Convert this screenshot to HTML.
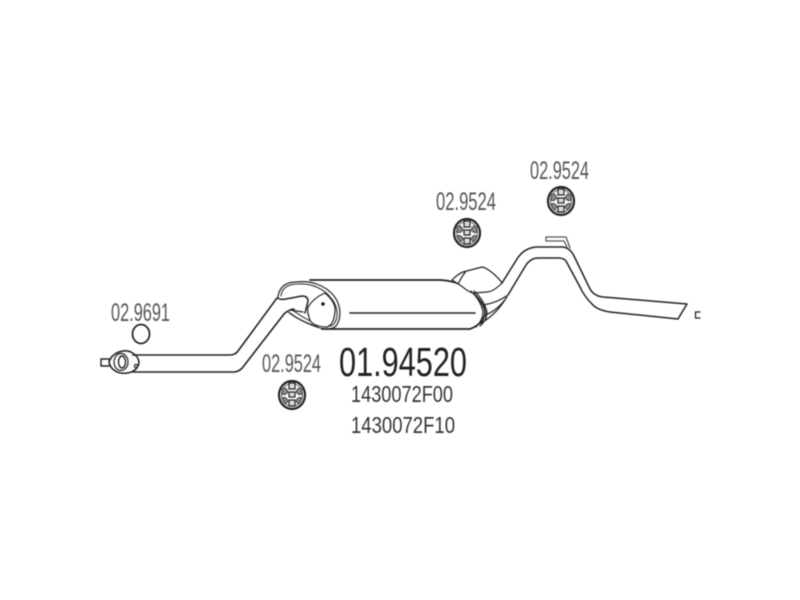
<!DOCTYPE html>
<html><head><meta charset="utf-8"><title>01.94520</title>
<style>html,body{margin:0;padding:0;background:#fff}svg{display:block;filter:blur(.4px)}text{font-family:"Liberation Sans",sans-serif}</style></head>
<body>
<svg width="800" height="600" viewBox="0 0 800 600" xmlns="http://www.w3.org/2000/svg">
<defs>
<g id="g">
<ellipse cx="0" cy="0" rx="13" ry="14" fill="#fff" stroke="#222" stroke-width="2.2"/>
<ellipse cx="0" cy="0" rx="10.5" ry="11.5" fill="none" stroke="#666" stroke-width="1"/>
<path d="M-10-6Q-6-9-4-3Q-7 1-10-1ZM10-6Q6-9 4-3Q7 1 10-1ZM-10 3Q-6 1-4 6Q-6 10-8 8ZM10 3Q6 1 4 6Q6 10 8 8Z" fill="#888" stroke="#333" stroke-width=".8"/>
<path d="M-3-12h6v6h-6zM-3-3h6v5h-6zM-3 5h6v6h-6z" fill="#ddd" stroke="#222" stroke-width="1.2"/>
</g>
</defs>
<g fill="none" stroke="#222" stroke-width="1.2" stroke-linejoin="round" stroke-linecap="round">
<!-- front pipe -->
<path d="M133 355H230Q235 355 238 351L277 298" stroke-width="1.6"/>
<path d="M133 372H235Q240 371 243 367L284 314Q288 310 294 309" stroke-width="1.6"/>
<!-- muffler body -->
<path d="M310 280H440Q460 281 472 292Q486 305 485 314Q483 324 470 329H322" stroke-width="1.8"/>
<path d="M350 313H475" stroke-width="1.6"/>
<!-- left end -->
<path d="M278 297C279 288 285 282 296 282C312 280 326 286 334 296C341 305 342 318 336 326C330 331 322 329 314 326C304 322 296 318 290 313" stroke-width="1.2"/>
<path d="M281 296C282 288 288 284 298 284C312 283 324 289 331 298C338 306 339 317 334 324C329 328 323 327 316 324" stroke-width="1"/>
<path d="M278 298Q280 300 286 299L302 296Q308 296 308 301L305 313" stroke-width="1.5"/>
<path d="M290 310L303 312" stroke-width="1.2"/>
<path d="M288 312Q298 320 318 327M291 309Q300 316 314 323" stroke-width="1"/>
<path d="M308 307C313 299 320 295 325 293C331 298 336 304 335 312C334 321 332 325 327 327C319 327 311 324 310 320C308 315 307 311 308 307Z" fill="#fff" stroke-width="1.2"/>
<circle cx="323" cy="304" r="1.7" fill="#111" stroke="none"/>
<!-- right end -->
<path d="M452 280C456 276 460 273 463 272L482 267C488 268 498 277 502 283C497 288 492 292 487 292L473 293C468 292 464 288 460 285Z" fill="#fff"/>
<path d="M458 284Q461 278 466 271"/>
<path d="M474 291Q484 300 487 312Q487 320 480 326M471 291Q481 301 483 312Q483 320 476 327"/>
<path d="M483 305Q497 303 508 295M485 315Q497 311 507 297M477 325Q493 318 505 300"/>
<!-- tail pipe -->
<path d="M502 283L517 259Q524 248 536 247H563Q570 248 574 256L590 289Q594 296 603 297L687 304L678 319L610 312Q597 310 592 304Q584 296 580 287L566 261Q564 258 558 258H538Q531 258 526 265L508 295" stroke-width="1.5"/>
<!-- bracket -->
<path d="M546 237H566L570 248M546 241H564L567 247" stroke="#555" stroke-width="1.3"/>
<path d="M546 237V241" stroke="#555"/>
<path d="M700 312H695.5V318H700" stroke-width="1.3"/>
<!-- flange -->
<path d="M109 359H101V366H109" stroke-width="1.4"/>
<path d="M109 362C112 352 124 349 131 352C136 355 141 360 138 366C135 372 128 374 121 373C115 372 110 368 109 362Z" stroke-width="1.6"/>
<ellipse cx="121" cy="362" rx="7" ry="8.5" stroke-width="1.2"/>
<ellipse cx="122" cy="362" rx="3.5" ry="6" stroke-width="1.4"/>
<circle cx="136" cy="366" r="1.6" stroke-width="1.2"/>
<!-- ring -->
<ellipse cx="141" cy="334" rx="8.5" ry="9.5" stroke="#222" stroke-width="1.7"/>
</g>
<use href="#g" x="292" y="395"/>
<use href="#g" x="467" y="233"/>
<use href="#g" x="561" y="201"/>
<g fill="#555" font-size="25">
<text x="111" y="321" textLength="59" lengthAdjust="spacingAndGlyphs">02.9691</text>
<text x="262" y="372" textLength="59" lengthAdjust="spacingAndGlyphs">02.9524</text>
<text x="436" y="210" textLength="60" lengthAdjust="spacingAndGlyphs">02.9524</text>
<text x="530" y="179" textLength="59" lengthAdjust="spacingAndGlyphs">02.9524</text>
</g>
<text x="339" y="376" font-size="41" fill="#222" textLength="128" lengthAdjust="spacingAndGlyphs">01.94520</text>
<text x="351" y="402" font-size="23" fill="#333" textLength="102" lengthAdjust="spacingAndGlyphs">1430072F00</text>
<text x="351" y="433" font-size="23" fill="#333" textLength="104" lengthAdjust="spacingAndGlyphs">1430072F10</text>
</svg>
</body></html>
